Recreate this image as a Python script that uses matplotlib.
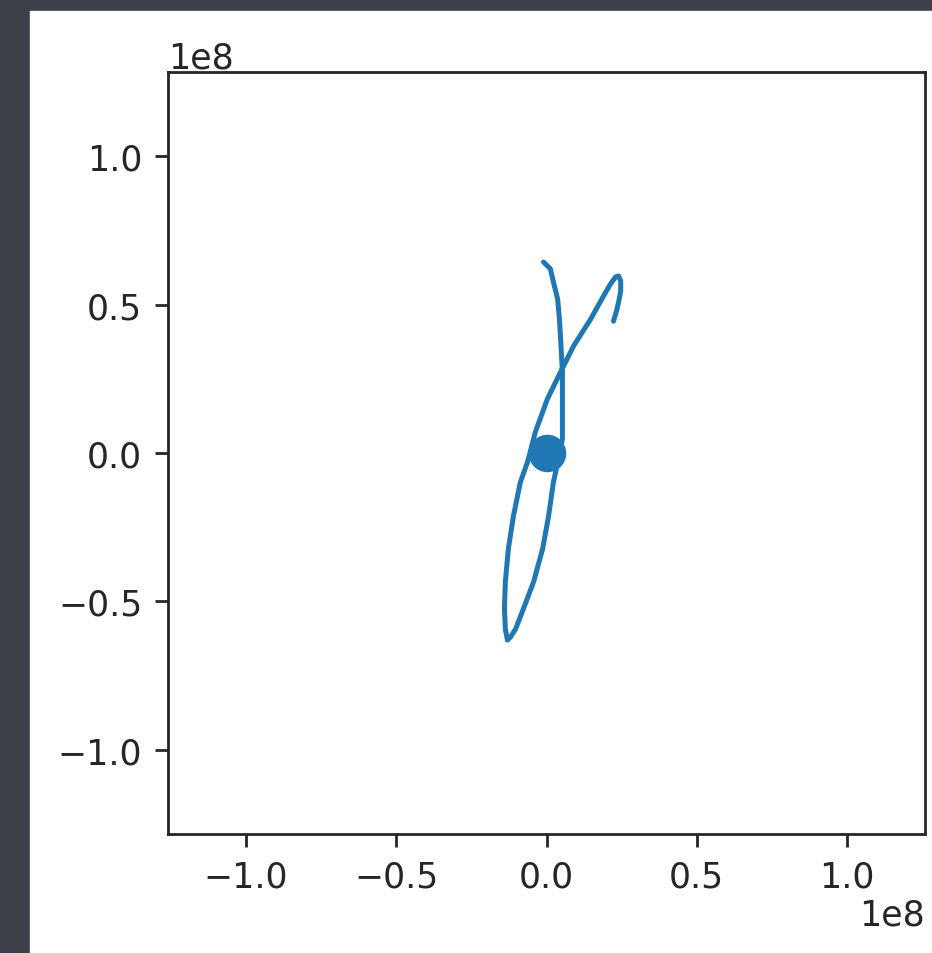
import numpy as np
import matplotlib
matplotlib.use("Agg")
import matplotlib.pyplot as plt
from matplotlib.patches import Rectangle

# orbit path (units of 1e8 m)
orbit_x = [-0.010, 0.013, 0.023, 0.037, 0.043, 0.047, 0.053, 0.053, 0.053, 0.040,
           0.023, 0.007, -0.013, -0.043, -0.077, -0.103, -0.120, -0.130, -0.137, -0.140,
           -0.137, -0.127, -0.110, -0.087, -0.063, -0.037, 0.003, 0.047, 0.090,
           0.147, 0.190, 0.213, 0.230, 0.240, 0.247, 0.247, 0.240, 0.233, 0.223]
orbit_y = [0.643, 0.620, 0.576, 0.519, 0.451, 0.384, 0.273, 0.158, 0.047, -0.020,
           -0.098, -0.212, -0.323, -0.434, -0.525, -0.593, -0.620, -0.630, -0.593, -0.525,
           -0.434, -0.323, -0.212, -0.098, -0.030, 0.071, 0.182, 0.273, 0.360,
           0.451, 0.529, 0.569, 0.593, 0.596, 0.579, 0.545, 0.508, 0.478, 0.444]
body_x = [0.0]
body_y = [0.0]

scale = 1e8
x = np.array(orbit_x) * scale
y = np.array(orbit_y) * scale

fig = plt.figure(figsize=(9.32, 9.54), dpi=100, facecolor='#3d4048')
# white output cell on the dark screenshot background
fig.patches.append(Rectangle((30 / 932, 0), 1, (954 - 12) / 954,
                             transform=fig.transFigure, color='white', zorder=-10))

ax = fig.add_axes([168 / 932, 1 - 835 / 954, (925 - 168) / 932, (835 - 73) / 954])
ax.plot(x, y, color='#1f77b4', lw=3.6, solid_capstyle='round', solid_joinstyle='round')
ax.plot(np.array(body_x) * scale, np.array(body_y) * scale, 'o',
        color='#1f77b4', markersize=26)

ax.set_xlim(-1.26e8, 1.26e8)
ax.set_ylim(-1.283e8, 1.283e8)
ax.set_xticks([-1e8, -0.5e8, 0, 0.5e8, 1e8])
ax.set_yticks([-1e8, -0.5e8, 0, 0.5e8, 1e8])

ax.tick_params(labelsize=25, length=9.5, width=2.0, pad=9, colors='#262626')
for s in ax.spines.values():
    s.set_linewidth(2.0)
    s.set_color('#262626')
ax.xaxis.get_offset_text().set_fontsize(25)
ax.yaxis.get_offset_text().set_fontsize(25)

fig.savefig('out.png', dpi=100, facecolor=fig.get_facecolor())
